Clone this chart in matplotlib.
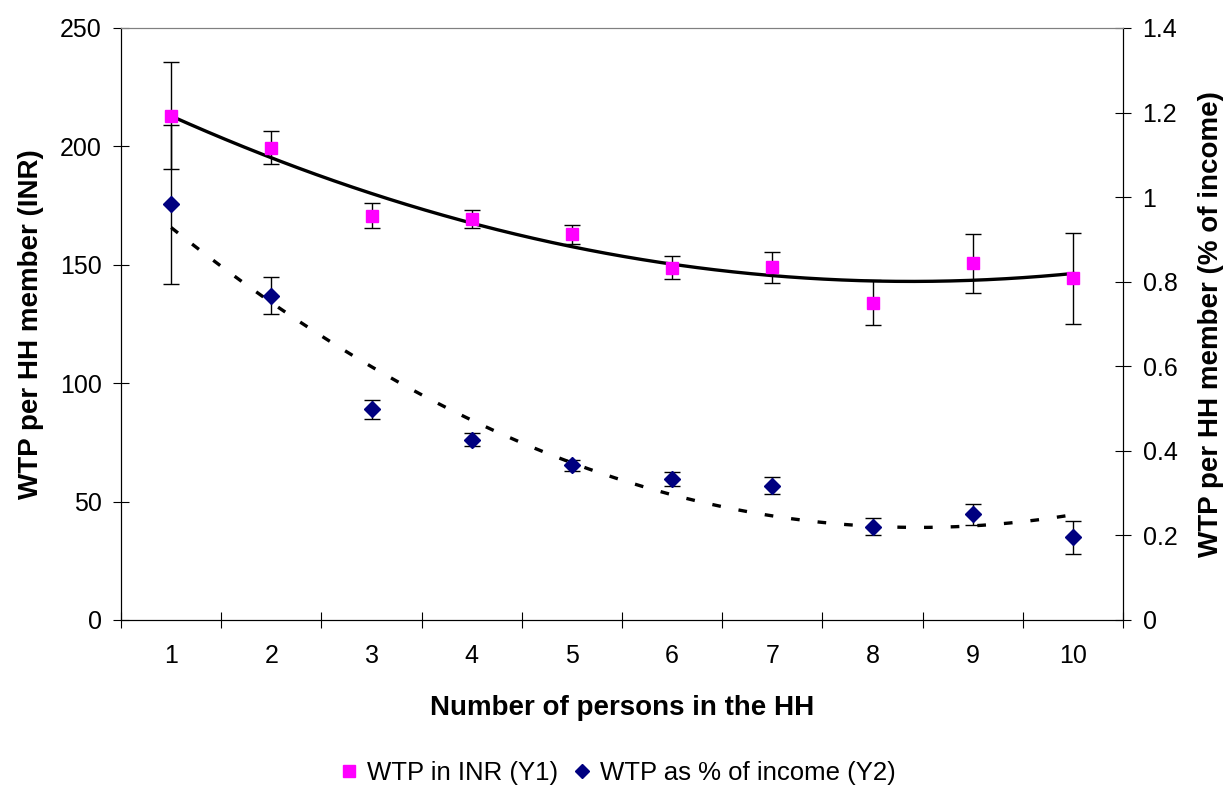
import numpy as np
import matplotlib
matplotlib.use("Agg")
import matplotlib.pyplot as plt
from matplotlib.lines import Line2D

plt.rcParams['font.family'] = ['Liberation Sans', 'DejaVu Sans']

# household size categories
persons = [1, 2, 3, 4, 5, 6, 7, 8, 9, 10]

# WTP in INR per HH member (left axis) with error half-widths
wtp_inr = [213, 199.5, 170.7, 169.2, 162.9, 148.8, 148.9, 134.0, 150.6, 144.3]
wtp_inr_err = [22.6, 7.0, 5.2, 3.8, 4.0, 4.8, 6.5, 9.5, 12.5, 19.2]

# WTP as % of income per HH member (right axis) with error half-widths
wtp_pct = [0.983, 0.767, 0.498, 0.426, 0.366, 0.333, 0.318, 0.220, 0.250, 0.196]
wtp_pct_err = [0.188, 0.044, 0.022, 0.015, 0.013, 0.017, 0.020, 0.020, 0.025, 0.039]

pink = '#FF00FF'
navy = '#000080'

fig = plt.figure(figsize=(12.29, 7.92), dpi=100)
ax1 = fig.add_axes([0.0985, 0.2172, 0.8153, 0.7475])
ax2 = ax1.twinx()

# polynomial (order 2) trendlines, like the Excel ones
xs = np.linspace(1, 10, 200)
fit1 = np.polyfit(persons, wtp_inr, 2)
fit2 = np.polyfit(persons, wtp_pct, 2)
ax1.plot(xs, np.polyval(fit1, xs), color='black', lw=2.4, zorder=3)
ax2.plot(xs, np.polyval(fit2, xs), color='black', lw=2.4,
         linestyle=(0, (2.6, 5.4)), zorder=3)

# data points with error bars
ax1.errorbar(persons, wtp_inr, yerr=wtp_inr_err, fmt='s', color=pink,
             ms=9, mec=pink, ecolor='black', elinewidth=1, capsize=6,
             capthick=1, zorder=4)
ax2.errorbar(persons, wtp_pct, yerr=wtp_pct_err, fmt='D', color=navy,
             ms=8, mec=navy, ecolor='black', elinewidth=1, capsize=6,
             capthick=1, zorder=4)

ax1.set_xlim(0.5, 10.5)
ax1.set_ylim(0, 250)
ax2.set_ylim(0, 1.4)
ax1.set_yticks(np.arange(0, 251, 50))
ax2.set_yticks([0, 0.2, 0.4, 0.6, 0.8, 1, 1.2, 1.4])
ax2.set_yticklabels(['0', '0.2', '0.4', '0.6', '0.8', '1', '1.2', '1.4'])

ax1.set_xticks(persons)
ax1.set_xticks(np.arange(0.5, 10.6, 1), minor=True)
ax1.tick_params(axis='x', which='major', length=0, pad=17, labelsize=18)
ax1.tick_params(axis='x', which='minor', direction='inout', length=12, width=0.8)
ax1.tick_params(axis='y', direction='inout', length=12, width=0.8, pad=8,
                labelsize=18)
ax2.tick_params(axis='y', direction='inout', length=12, width=0.8, pad=8,
                labelsize=18)

for ax in (ax1, ax2):
    for s in ax.spines.values():
        s.set_linewidth(0.8)
    ax.spines['top'].set_color('#808080')

ax1.set_xlabel('Number of persons in the HH', fontsize=20, fontweight='bold',
               labelpad=20)
ax1.set_ylabel('WTP per HH member (INR)', fontsize=20, fontweight='bold',
               labelpad=11)
ax2.set_ylabel('WTP per HH member (% of income)', fontsize=20,
               fontweight='bold', labelpad=15)

handles = [Line2D([], [], marker='s', ls='none', color=pink, ms=8),
           Line2D([], [], marker='D', ls='none', color=navy, ms=7)]
fig.legend(handles, ['WTP in INR (Y1)', 'WTP as % of income (Y2)'],
           loc='center', bbox_to_anchor=(0.501, 0.024), ncol=2, frameon=False,
           fontsize=18.5, handletextpad=0.2, columnspacing=0.45,
           handlelength=1.0)

fig.savefig('out.png', dpi=100)
